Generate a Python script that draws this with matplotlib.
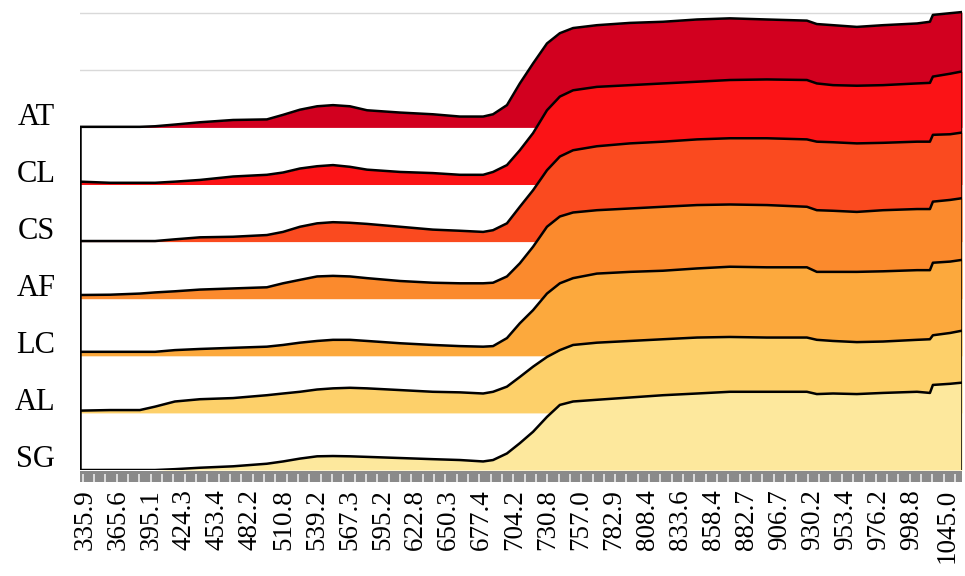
import numpy as np
import matplotlib.pyplot as plt

plt.rcParams['font.family'] = 'Liberation Serif'

# wavelength labels (nm) on the category axis, and where they sit in label steps
wl_labels = ['335.9', '365.6', '395.1', '424.3', '453.4', '482.2', '510.8',
             '539.2', '567.3', '595.2', '622.8', '650.3', '677.4', '704.2',
             '730.8', '757.0', '782.9', '808.4', '833.6', '858.4', '882.7',
             '906.7', '930.2', '953.4', '976.2', '998.8', '1045.0']
label_pos = list(range(26)) + [26.06]

# sample positions along the axis (label steps)
pos = [-0.15, 0.76, 1.66, 2.12, 2.72, 3.48, 4.48, 5.50, 5.99, 6.50, 7.02,
       7.50, 8.01, 8.53, 9.53, 10.52, 11.34, 12.04, 12.34, 12.76, 13.15,
       13.55, 13.97, 14.36, 14.76, 15.48, 16.48, 17.48, 18.51, 19.50, 20.62,
       21.83, 22.13, 22.62, 23.34, 24.13, 25.16, 25.55, 25.64, 26.16, 26.52]

# reflectance of each sample (arbitrary units)
sg = [0.00, 0.00, 0.00, 0.00, 0.015, 0.04, 0.065, 0.11, 0.15, 0.20, 0.24,
      0.245, 0.24, 0.23, 0.21, 0.19, 0.175, 0.15, 0.175, 0.29, 0.47,
      0.67, 0.93, 1.14, 1.20, 1.23, 1.27, 1.31, 1.34, 1.37, 1.37,
      1.37, 1.33, 1.34, 1.33, 1.35, 1.37, 1.35, 1.49, 1.51, 1.53]
al = [0.04, 0.05, 0.05, 0.11, 0.20, 0.24, 0.26, 0.31, 0.34, 0.37, 0.41,
      0.43, 0.44, 0.43, 0.40, 0.37, 0.36, 0.34, 0.37, 0.46, 0.63,
      0.81, 0.98, 1.10, 1.19, 1.23, 1.26, 1.29, 1.32, 1.33, 1.32,
      1.32, 1.28, 1.26, 1.24, 1.25, 1.28, 1.29, 1.36, 1.40, 1.44]
lc = [0.07, 0.07, 0.07, 0.07, 0.10, 0.12, 0.14, 0.16, 0.19, 0.23, 0.26,
      0.28, 0.28, 0.26, 0.22, 0.19, 0.17, 0.16, 0.17, 0.31, 0.57,
      0.80, 1.09, 1.27, 1.36, 1.44, 1.47, 1.49, 1.53, 1.56, 1.55,
      1.55, 1.47, 1.47, 1.47, 1.48, 1.50, 1.50, 1.63, 1.65, 1.68]
af = [0.065, 0.07, 0.09, 0.11, 0.13, 0.16, 0.18, 0.20, 0.27, 0.33, 0.39,
      0.40, 0.39, 0.36, 0.31, 0.28, 0.27, 0.27, 0.28, 0.39, 0.62,
      0.91, 1.26, 1.44, 1.51, 1.55, 1.58, 1.61, 1.64, 1.65, 1.64,
      1.61, 1.55, 1.54, 1.52, 1.55, 1.57, 1.57, 1.70, 1.73, 1.76]
cs = [0.01, 0.01, 0.01, 0.01, 0.04, 0.075, 0.085, 0.115, 0.17, 0.26, 0.32,
      0.34, 0.33, 0.31, 0.26, 0.21, 0.19, 0.17, 0.20, 0.32, 0.61,
      0.90, 1.25, 1.49, 1.60, 1.67, 1.72, 1.75, 1.79, 1.81, 1.81,
      1.79, 1.75, 1.74, 1.72, 1.73, 1.75, 1.75, 1.87, 1.88, 1.91]
cl = [0.05, 0.03, 0.03, 0.03, 0.05, 0.08, 0.14, 0.17, 0.21, 0.28, 0.32,
      0.34, 0.31, 0.26, 0.22, 0.20, 0.17, 0.17, 0.22, 0.34, 0.60,
      0.90, 1.30, 1.54, 1.65, 1.71, 1.74, 1.77, 1.80, 1.83, 1.84,
      1.83, 1.77, 1.74, 1.73, 1.74, 1.77, 1.78, 1.89, 1.94, 1.98]
at = [0.01, 0.01, 0.01, 0.02, 0.05, 0.09, 0.13, 0.14, 0.22, 0.31, 0.37,
      0.39, 0.37, 0.30, 0.26, 0.23, 0.19, 0.19, 0.23, 0.39, 0.77,
      1.12, 1.47, 1.65, 1.74, 1.79, 1.83, 1.85, 1.89, 1.91, 1.89,
      1.87, 1.81, 1.79, 1.76, 1.79, 1.82, 1.85, 1.97, 2.00, 2.02]

names = ['SG', 'AL', 'LC', 'AF', 'CS', 'CL', 'AT']
series = [sg, al, lc, af, cs, cl, at]
colors = ['#FDE89D', '#FDD06A', '#FCA93D', '#FB8A2D', '#FA4A1F', '#FB1316', '#D2001F']

x = np.array(pos)

fig = plt.figure(figsize=(9.65, 5.76), dpi=100)
ax = fig.add_axes([0.0829, 0.184, 0.9140, 0.803])
ax.set_xlim(pos[0], pos[-1])
ax.set_ylim(0, 8.1)
ax.set_yticks(range(9))
ax.yaxis.grid(True, color='#d9d9d9', linewidth=1)
ax.set_axisbelow(True)
ax.tick_params(left=False, bottom=False, labelleft=False, labelbottom=False)
for s in ax.spines.values():
    s.set_visible(False)

# white under the stack so only the grid above it shows
ax.fill_between(x, 0, len(series) - 1, color='white', lw=0, zorder=1)

# each trace lifted by one unit, drawn from the top one down
for i in range(len(series) - 1, -1, -1):
    y = i + np.array(series[i])
    ax.fill_between(x, i, y, color=colors[i], lw=0, zorder=2)
    ax.plot(x, y, color='black', lw=1.8, zorder=3, solid_joinstyle='round')
    ax.text(-0.028, i + 0.18, names[i], transform=ax.get_yaxis_transform(),
            ha='right', va='center', fontsize=22)

# edges of the stack
top = len(series) - 1 + np.array(series[-1])
ax.plot([x[0], x[0]], [0, top[0]], color='black', lw=1.8, zorder=3)
ax.plot([x[-1], x[-1]], [0, top[-1]], color='black', lw=1.8, zorder=3)

# tick band under the plot with the wavelength labels
band = fig.add_axes([0.0829, 0.1632, 0.9140, 0.0191])
band.set_xlim(pos[0], pos[-1])
band.set_ylim(0, 1)
band.set_facecolor('#8a8a8a')
for s in band.spines.values():
    s.set_visible(False)
band.vlines(np.arange(-0.07, pos[-1], 0.3426), 0, 0.72, color='#ececec', lw=1.2)
band.set_yticks([])
band.set_xticks(label_pos)
band.set_xticklabels(wl_labels, rotation=90, fontsize=19.5)
band.tick_params(axis='x', length=0, pad=5)

fig.savefig('out.png', dpi=100)
